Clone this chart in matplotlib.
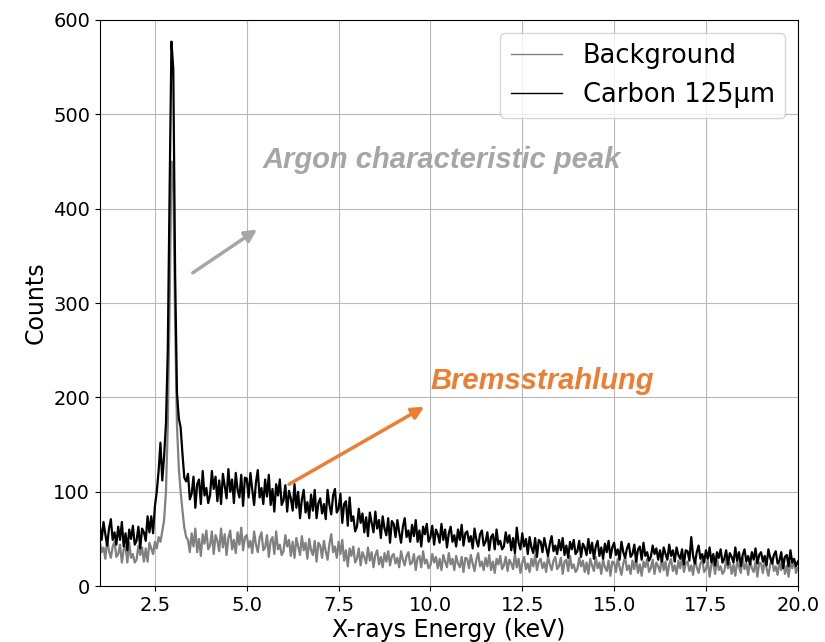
"""Energy spectra of the X-ray source: background vs. 125 um carbon target"""
import numpy as np
import matplotlib
matplotlib.use('Agg')
import matplotlib.pyplot as plt

# channel grid: 1.00 keV .. 20.00 keV, 0.05 keV per channel
E_START = 1.0
E_STEP = 0.05

# counts per channel, one row per keV
carbon_counts = [
    64, 49, 68, 55, 43, 61, 71, 49, 57, 44, 63, 49, 68, 42, 56, 38, 60, 50, 64, 44,
    48, 63, 40, 61, 57, 48, 74, 57, 74, 56, 85, 100, 122, 152, 112, 138, 172, 250, 420, 577,
    548, 330, 205, 178, 168, 140, 115, 111, 119, 92, 98, 116, 83, 108, 113, 87, 122, 96, 104, 88,
    96, 122, 103, 116, 90, 112, 87, 119, 106, 93, 124, 100, 113, 88, 120, 102, 94, 118, 85, 115,
    114, 94, 120, 102, 86, 110, 123, 94, 104, 87, 113, 95, 118, 86, 103, 79, 108, 96, 113, 86,
    91, 107, 79, 101, 93, 80, 108, 83, 100, 72, 92, 102, 78, 89, 72, 97, 80, 102, 72, 88,
    93, 77, 87, 71, 102, 86, 76, 96, 103, 78, 82, 98, 67, 87, 90, 64, 94, 69, 74, 58,
    63, 82, 67, 77, 57, 73, 53, 78, 67, 57, 79, 61, 70, 51, 74, 61, 54, 72, 46, 69,
    66, 52, 70, 57, 46, 63, 72, 52, 59, 47, 65, 53, 70, 47, 59, 42, 63, 55, 66, 47,
    52, 64, 44, 60, 55, 46, 66, 49, 60, 41, 56, 63, 47, 54, 42, 60, 49, 65, 43, 56,
    58, 47, 53, 40, 61, 49, 42, 55, 59, 43, 47, 57, 38, 52, 55, 39, 60, 44, 48, 39,
    42, 57, 46, 54, 38, 51, 35, 62, 46, 39, 56, 42, 50, 34, 52, 41, 35, 51, 31, 49,
    47, 36, 51, 41, 32, 45, 53, 37, 43, 34, 49, 38, 51, 33, 43, 30, 47, 39, 49, 34,
    37, 48, 31, 45, 41, 33, 50, 35, 46, 29, 42, 48, 32, 41, 29, 45, 36, 48, 30, 41,
    46, 33, 39, 28, 47, 36, 30, 40, 45, 31, 34, 44, 26, 39, 42, 28, 46, 32, 36, 27,
    31, 43, 34, 40, 28, 38, 26, 41, 34, 28, 44, 32, 38, 26, 41, 33, 29, 39, 23, 38,
    37, 27, 52, 32, 24, 36, 43, 29, 34, 25, 38, 29, 41, 25, 34, 22, 36, 30, 39, 25,
    29, 38, 23, 35, 31, 25, 41, 27, 36, 21, 33, 39, 26, 32, 23, 36, 28, 40, 24, 33,
    36, 26, 32, 22, 39, 30, 24, 33, 37, 24, 27, 36, 19, 31, 33, 21, 38, 25, 29, 21,
    26,
]

background_counts = [
    47, 36, 41, 29, 50, 37, 30, 42, 47, 31, 34, 44, 25, 39, 42, 25, 46, 30, 34, 25,
    28, 43, 33, 41, 26, 40, 26, 46, 40, 34, 47, 40, 52, 47, 58, 70, 100, 170, 300, 450,
    430, 280, 170, 125, 100, 80, 62, 52, 49, 36, 56, 42, 61, 36, 50, 32, 55, 45, 59, 39,
    43, 58, 34, 54, 48, 37, 61, 41, 55, 33, 51, 59, 39, 49, 35, 57, 44, 62, 38, 52,
    54, 41, 48, 35, 58, 44, 36, 51, 57, 38, 41, 54, 31, 48, 52, 34, 58, 39, 44, 33,
    37, 54, 42, 49, 32, 47, 30, 51, 42, 33, 53, 38, 46, 29, 50, 38, 33, 48, 26, 46,
    43, 30, 48, 37, 28, 45, 55, 36, 42, 30, 47, 34, 49, 27, 38, 21, 40, 32, 42, 25,
    29, 40, 22, 36, 31, 24, 41, 27, 36, 20, 33, 38, 23, 31, 20, 35, 26, 37, 22, 32,
    34, 24, 30, 20, 37, 28, 22, 32, 36, 23, 25, 34, 17, 30, 32, 20, 37, 24, 28, 19,
    22, 34, 25, 31, 19, 29, 17, 33, 26, 20, 35, 23, 29, 17, 32, 24, 20, 31, 15, 30,
    29, 19, 33, 24, 16, 28, 35, 21, 26, 17, 30, 21, 33, 17, 26, 14, 29, 23, 32, 18,
    22, 31, 16, 28, 24, 18, 34, 20, 29, 14, 25, 31, 18, 24, 15, 29, 21, 33, 17, 26,
    29, 19, 25, 15, 32, 23, 17, 27, 31, 18, 21, 30, 13, 26, 28, 16, 32, 19, 23, 15,
    18, 30, 21, 27, 15, 25, 13, 29, 22, 16, 31, 19, 25, 13, 28, 20, 16, 27, 11, 26,
    25, 15, 29, 20, 12, 24, 31, 17, 22, 13, 27, 18, 30, 14, 23, 11, 26, 20, 29, 15,
    19, 28, 13, 25, 21, 15, 31, 17, 26, 11, 23, 29, 16, 22, 13, 27, 19, 31, 15, 24,
    26, 16, 22, 12, 29, 20, 14, 24, 28, 15, 18, 27, 10, 23, 25, 13, 30, 17, 21, 13,
    16, 28, 19, 25, 13, 23, 11, 27, 20, 14, 30, 18, 24, 12, 27, 19, 15, 26, 10, 25,
    24, 14, 28, 19, 11, 23, 30, 16, 21, 12, 26, 17, 29, 13, 22, 10, 25, 19, 28, 14,
    19,
]

argon_gray = '#A6A6A6'
brems_orange = '#ED7D31'

energy = E_START + E_STEP * np.arange(len(carbon_counts))

fig, ax = plt.subplots(figsize=(8.25, 6.42), dpi=100)
fig.subplots_adjust(left=0.121, right=0.967, top=0.969, bottom=0.087)

ax.plot(energy, background_counts, color='gray', lw=1.6, label='Background')
ax.plot(energy, carbon_counts, color='black', lw=1.6, label='Carbon 125µm')

ax.set_xlim(1, 20)
ax.set_ylim(0, 600)
ax.set_xticks(np.arange(2.5, 20.1, 2.5))
ax.grid(True, color='#b8b8b8', lw=0.8)
ax.tick_params(labelsize=14)
ax.set_xlabel('X-rays Energy (keV)', fontsize=17, labelpad=2)
ax.set_ylabel('Counts', fontsize=17)
leg = ax.legend(loc='upper right', fontsize=18.5)
for line in leg.get_lines():
    line.set_linewidth(1.0)

# annotations
ax.annotate('', xy=(5.28, 378), xytext=(3.53, 332),
            arrowprops=dict(arrowstyle='-|>', color=argon_gray, lw=2.5,
                            mutation_scale=18, shrinkA=0, shrinkB=0))
ax.text(5.42, 452, 'Argon characteristic peak', color=argon_gray, fontsize=21,
        fontweight='bold', fontstyle='italic', family='Liberation Sans', va='center')

ax.annotate('', xy=(9.83, 190), xytext=(6.15, 108),
            arrowprops=dict(arrowstyle='-|>', color=brems_orange, lw=2.5,
                            mutation_scale=18, shrinkA=0, shrinkB=0))
ax.text(10.0, 217, 'Bremsstrahlung', color=brems_orange, fontsize=21,
        fontweight='bold', fontstyle='italic', family='Liberation Sans', va='center')

fig.savefig('out.png', dpi=100)
